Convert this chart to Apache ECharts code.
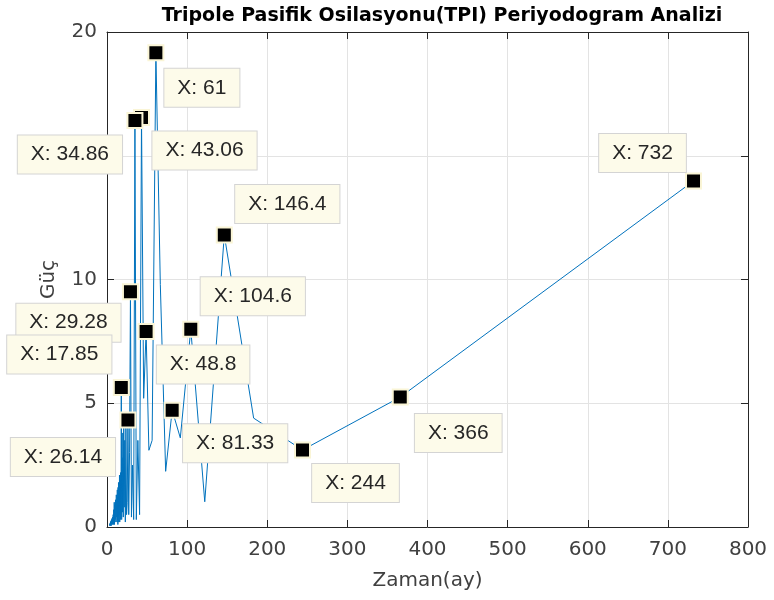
<!DOCTYPE html>
<html>
<head>
<meta charset="utf-8">
<title>TPI Periyodogram</title>
<script src="https://cdn.jsdelivr.net/npm/echarts@6/dist/echarts.min.js"></script>
<style>
    html, body { margin: 0; padding: 0; background: #fff; }
    #main { width: 774px; height: 600px; }
</style>
</head>
<body>
<div id="main"></div>
<script>
// periyot (ay) - N=732 ay icin N/k
var periods = [
    732, 366, 244, 183, 146.4, 122, 104.57, 91.5, 81.33, 73.2,
    66.55, 61, 56.31, 52.29, 48.8, 45.75, 43.06, 40.67, 38.53, 36.6,
    34.86, 33.27, 31.83, 30.5, 29.28, 28.15, 27.11, 26.14, 25.24, 24.4,
    23.61, 22.88, 22.18, 21.53, 20.91, 20.33, 19.78, 19.26, 18.77, 18.3,
    17.85, 17.43, 17.02, 16.64, 16.27, 15.91, 15.57, 15.25, 14.94, 14.64,
    14.35, 14.08, 13.81, 13.56, 13.31, 13.07, 12.84, 12.62, 12.41, 12.2,
    11.62, 11.09, 10.61, 10.17, 9.76, 9.38, 9.04, 8.71, 8.41, 8.13,
    7.71, 7.32, 6.97, 6.65, 6.37, 6.1, 5.63, 5.23, 4.88, 4.58,
    4.31, 4.07, 3.81, 3.57, 3.33, 3.13, 2.9, 2.69, 2.49, 2.3,
    2.13, 2
];
// guc degerleri
var power = [
    13.98, 5.25, 3.11, 4.4, 11.8, 1.02, 7.99, 3.6, 4.72, 2.25,
    9.8, 19.16, 3.5, 3.1, 7.9, 5.2, 16.55, 0.5, 3.5, 0.3,
    16.42, 0.3, 2.5, 0.4, 9.51, 3.0, 0.5, 4.32, 1.0, 0.5,
    4.1, 0.2, 3.5, 0.8, 4.0, 0.4, 3.8, 0.6, 2.8, 0.3,
    5.64, 0.6, 2.2, 0.3, 1.9, 0.2, 2.1, 0.5, 1.4, 0.2,
    1.8, 0.4, 1.6, 0.1, 1.2, 0.3, 1.5, 0.2, 1.0, 0.4,
    1.3, 0.2, 1.1, 0.3, 0.9, 0.1, 1.0, 0.2, 0.7, 0.1,
    0.5, 0.2, 0.4, 0.1, 0.35, 0.1, 0.3, 0.05, 0.25, 0.1,
    0.2, 0.05, 0.15, 0.05, 0.12, 0.04, 0.1, 0.03, 0.08, 0.02,
    0.05, 0.02
];
// isaretlenen noktalar (periods dizisindeki sira)
var tipIndex = [0, 1, 2, 4, 6, 8, 11, 14, 16, 20, 24, 27, 40];
// etiket kutularinin isaretten kaymasi (px)
var tipOffsets = [
    [-51, -28], [58, 36], [53, 33], [63, -31], [62, -33], [63, 33], [46, 35],
    [57, 33], [63, 33], [-65, 34], [-62, 31], [-65, 37], [-62, -33]
];
var xTicks = [0, 800, 100];
var yTicks = [0, 20, 5];

var chart = echarts.init(document.getElementById('main'));
var FONT = 'Liberation Sans, Arial, Helvetica, sans-serif';
var AXFONT = 'DejaVu Sans, sans-serif';
var TXT = '#262626';

// MATLAB datatip gibi 4 anlamli basamak
function tipText(v) {
    var s = Number(v).toPrecision(4);
    if (s.indexOf('.') >= 0) s = s.replace(/0+$/, '').replace(/\.$/, '');
    return 'X: ' + s;
}

function lineData() {
    return periods.map(function (p, i) { return [p, power[i]]; });
}

function tipData() {
    return tipIndex.map(function (k, i) {
        return {
            value: [periods[k], power[k]],
            name: tipText(periods[k]),
            label: { offset: tipOffsets[i] }
        };
    });
}

function axisX(pos, show) {
    return {
        type: 'value', position: pos,
        min: xTicks[0], max: xTicks[1], interval: xTicks[2],
        name: show ? 'Zaman(ay)' : '',
        nameLocation: 'middle', nameGap: 44,
        nameTextStyle: { fontFamily: AXFONT, fontSize: 20, color: '#404040' },
        axisLine: { show: true, onZero: false, lineStyle: { color: TXT, width: 1 } },
        axisTick: { show: true, inside: true, length: 7, lineStyle: { color: TXT } },
        axisLabel: { show: show, fontFamily: AXFONT, fontSize: 20, color: '#404040', margin: 13 },
        splitLine: { show: show, lineStyle: { color: '#e3e3e3', width: 1 } }
    };
}

function axisY(pos, show) {
    return {
        type: 'value', position: pos,
        min: yTicks[0], max: yTicks[1], interval: yTicks[2],
        name: show ? 'Güç' : '',
        nameLocation: 'middle', nameGap: 48, nameRotate: 90,
        nameTextStyle: { fontFamily: AXFONT, fontSize: 20, color: '#404040' },
        axisLine: { show: true, onZero: false, lineStyle: { color: TXT, width: 1 } },
        axisTick: { show: true, inside: true, length: 7, lineStyle: { color: TXT } },
        axisLabel: { show: show, fontFamily: AXFONT, fontSize: 20, color: '#404040', margin: 10 },
        splitLine: { show: show, lineStyle: { color: '#e3e3e3', width: 1 } }
    };
}

var option = {
    backgroundColor: '#fff',
    animation: false,
    title: {
        text: 'Tripole Pasifik Osilasyonu(TPI) Periyodogram Analizi',
        left: 437, top: 2, textAlign: 'center',
        textStyle: { fontFamily: AXFONT, fontSize: 19, fontWeight: 'bold', color: '#000' }
    },
    grid: { left: 107, right: 26, top: 32, bottom: 73 },
    xAxis: [axisX('bottom', true), axisX('top', false)],
    yAxis: [axisY('left', true), axisY('right', false)],
    series: [
        {
            type: 'line',
            data: lineData(),
            showSymbol: false,
            lineStyle: { color: '#0072BD', width: 1 },
            z: 2
        },
        {
            type: 'scatter',
            data: tipData(),
            zlevel: 1,
            symbol: 'rect',
            symbolSize: 15,
            itemStyle: { color: '#000', opacity: 1, borderColor: '#faf5d6', borderWidth: 2 },
            label: {
                show: true,
                position: 'inside',
                formatter: '{b}',
                fontFamily: FONT,
                fontSize: 21,
                color: TXT,
                backgroundColor: '#fdfbea',
                borderColor: '#d4d4d4',
                borderWidth: 1,
                padding: [9, 13, 8, 13],
                align: 'center',
                verticalAlign: 'middle'
            },
            z: 3
        }
    ]
};

chart.setOption(option);
</script>
</body>
</html>
